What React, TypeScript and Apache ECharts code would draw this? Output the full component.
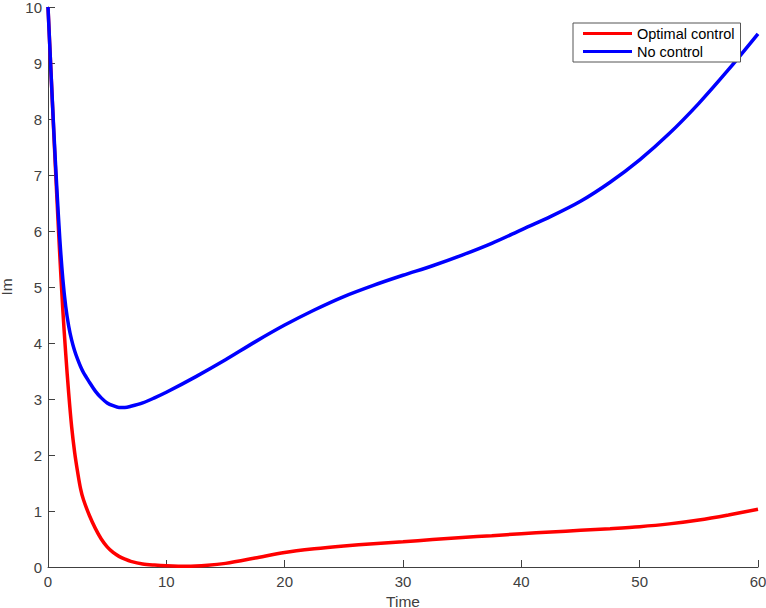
import React, { useEffect, useRef } from "react";
import * as echarts from "echarts";

const xTicks = [0, 10, 20, 30, 40, 50, 60];
const yTicks = [0, 1, 2, 3, 4, 5, 6, 7, 8, 9, 10];

const optimalTime = [0, 0.25, 0.5, 0.75, 1.0, 1.25, 1.5, 1.75, 2.0, 2.25, 2.5, 2.75, 3.0, 3.5, 4.0, 4.5, 5.0, 5.5, 6.0, 6.5, 7, 8, 9, 10, 11.7, 13.5, 15, 17.5, 20, 22.5, 25, 27.5, 30, 32.5, 35, 37.5, 40, 42.5, 45, 47.5, 50, 52.5, 55, 57.5, 60];
const optimalIm = [10, 8.85, 7.7, 6.6, 5.55, 4.6, 3.8, 3.1, 2.5, 2.05, 1.7, 1.4, 1.2, 0.92, 0.69, 0.5, 0.36, 0.26, 0.19, 0.14, 0.1, 0.055, 0.035, 0.022, 0.012, 0.03, 0.065, 0.16, 0.26, 0.325, 0.375, 0.415, 0.45, 0.49, 0.525, 0.56, 0.595, 0.625, 0.655, 0.685, 0.72, 0.77, 0.84, 0.93, 1.03];

const noControlTime = [0, 0.25, 0.5, 0.75, 1.0, 1.25, 1.5, 1.75, 2.0, 2.25, 2.5, 2.75, 3.0, 3.5, 4.0, 4.5, 5.0, 5.5, 6.0, 6.5, 7, 8, 9, 10, 12.5, 15, 17.5, 20, 22.5, 25, 27.5, 30, 32.5, 35, 37.5, 40, 42.5, 45, 47.5, 50, 52.5, 55, 57.5, 60];
const noControlIm = [10, 8.85, 7.75, 6.75, 5.85, 5.15, 4.65, 4.3, 4.05, 3.86, 3.71, 3.58, 3.47, 3.3, 3.14, 3.02, 2.93, 2.88, 2.85, 2.85, 2.87, 2.93, 3.02, 3.12, 3.4, 3.7, 4.02, 4.32, 4.59, 4.83, 5.03, 5.21, 5.38, 5.57, 5.78, 6.02, 6.26, 6.53, 6.87, 7.27, 7.74, 8.28, 8.88, 9.52];

const zip = (xs: number[], ys: number[]) => xs.map((x, i) => [x, ys[i]]);

const FONT = "'Liberation Sans', Arial, Helvetica, sans-serif";
const AXIS_COLOR = "#404040";

export default function App() {
  const ref = useRef<HTMLDivElement>(null);
  useEffect(() => {
    if (!ref.current) return;
    const chart = echarts.init(ref.current, undefined, { renderer: "svg" });
    chart.setOption({
      animation: false,
      backgroundColor: "#ffffff",
      textStyle: { fontFamily: FONT },
      grid: { left: 48, right: 8, top: 7, bottom: 41, containLabel: false, outerBoundsMode: "none" },
      legend: {
        orient: "vertical",
        left: 573,
        top: 23,
        padding: [3, 6, 3, 10],
        itemGap: 3,
        itemWidth: 49,
        itemHeight: 3,
        icon: "rect",
        borderColor: "#555555",
        borderWidth: 1,
        backgroundColor: "#ffffff",
        textStyle: { fontSize: 14.5, lineHeight: 15, color: "#000000", fontFamily: FONT },
        data: ["Optimal control", "No control"],
      },
      xAxis: {
        type: "value",
        min: 0,
        max: 60,
        interval: 10,
        name: "Time",
        nameLocation: "middle",
        nameGap: 24,
        nameTextStyle: { fontSize: 15.5, lineHeight: 14, color: AXIS_COLOR, fontFamily: FONT },
        axisLine: { show: true, lineStyle: { color: AXIS_COLOR, width: 1 } },
        axisTick: { show: true, inside: true, length: 7, lineStyle: { color: AXIS_COLOR } },
        axisLabel: {
          fontSize: 15,
          color: AXIS_COLOR,
          margin: 7,
          fontFamily: FONT,
          customValues: xTicks,
        },
        splitLine: { show: false },
      },
      yAxis: {
        type: "value",
        min: 0,
        max: 10,
        interval: 1,
        name: "Im",
        nameLocation: "middle",
        nameGap: 30,
        nameTextStyle: { fontSize: 15.5, lineHeight: 14, color: AXIS_COLOR, fontFamily: FONT },
        axisLine: { show: true, lineStyle: { color: AXIS_COLOR, width: 1 } },
        axisTick: { show: true, inside: true, length: 7, lineStyle: { color: AXIS_COLOR } },
        axisLabel: {
          fontSize: 15,
          color: AXIS_COLOR,
          margin: 6,
          fontFamily: FONT,
          customValues: yTicks,
        },
        splitLine: { show: false },
      },
      series: [
        {
          name: "Optimal control",
          type: "line",
          data: zip(optimalTime, optimalIm),
          showSymbol: false,
          smooth: 0.3,
          lineStyle: { color: "#ff0000", width: 3.5 },
          itemStyle: { color: "#ff0000" },
        },
        {
          name: "No control",
          type: "line",
          data: zip(noControlTime, noControlIm),
          showSymbol: false,
          smooth: 0.3,
          lineStyle: { color: "#0000ff", width: 3.5 },
          itemStyle: { color: "#0000ff" },
        },
      ],
    });
    return () => chart.dispose();
  }, []);
  return <div ref={ref} style={{ width: 766, height: 608, position: "absolute", left: 0, top: 0 }} />;
}
